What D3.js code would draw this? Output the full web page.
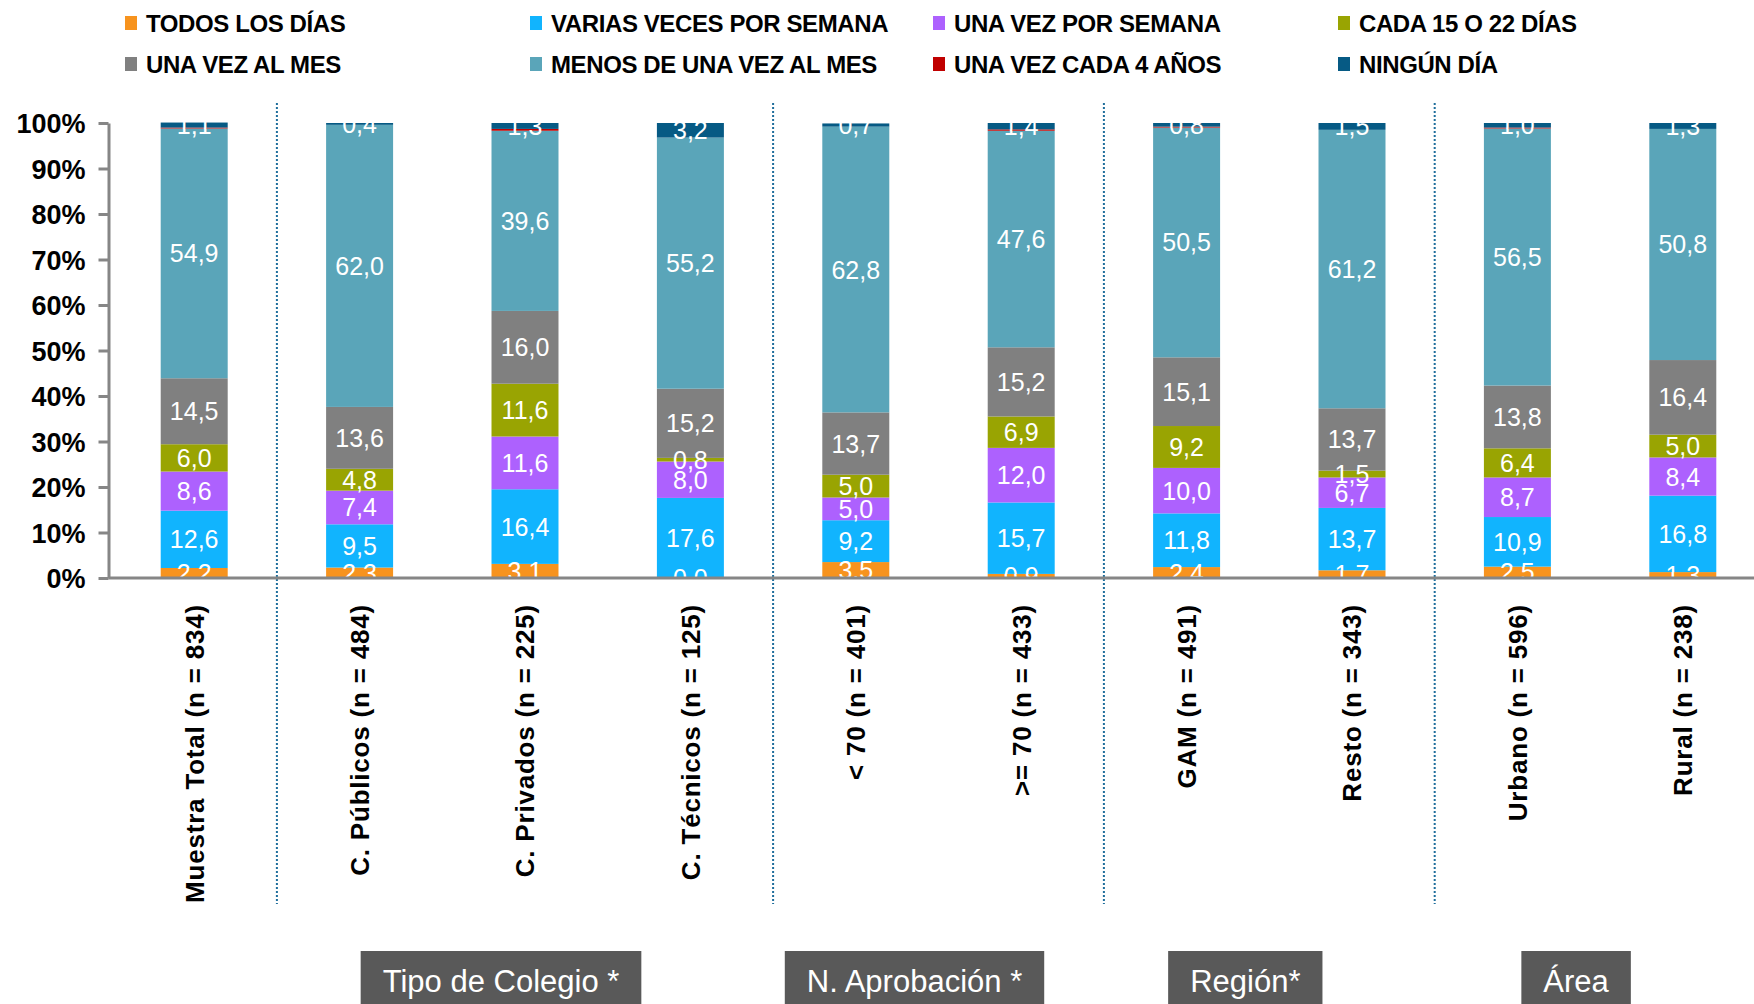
<!DOCTYPE html>
<html>
<head>
<meta charset="utf-8">
<script src="https://cdn.jsdelivr.net/npm/d3@7"></script>
<style>
  body { margin: 0; background: #fff; }
  svg { font-family: "Liberation Sans", Arial, sans-serif; display: block; }
  .axis path, .axis line { stroke: #868686; stroke-width: 3; }
  .ytick text { font-size: 27px; font-weight: bold; fill: #000; }
  .xlab { font-size: 26px; font-weight: bold; fill: #000; letter-spacing: 0.8px; }
  .val { font-size: 25px; fill: #fff; text-anchor: middle; }
  .leg { font-size: 24px; font-weight: bold; fill: #000; letter-spacing: -0.4px; }
  .grp { font-size: 31px; fill: #fff; text-anchor: middle; }
</style>
</head>
<body>
<script>
// categories (bars)
var categories = ["Muestra Total (n = 834)", "C. Públicos (n = 484)", "C. Privados (n = 225)",
  "C. Técnicos (n = 125)", "< 70 (n = 401)", ">= 70 (n = 433)", "GAM (n = 491)",
  "Resto (n = 343)", "Urbano (n = 596)", "Rural (n = 238)"];

// series values, %
var todosLosDias   = [2.2, 2.3, 3.1, 0.0, 3.5, 0.9, 2.4, 1.7, 2.5, 1.3];
var variasVeces    = [12.6, 9.5, 16.4, 17.6, 9.2, 15.7, 11.8, 13.7, 10.9, 16.8];
var unaVezSemana   = [8.6, 7.4, 11.6, 8.0, 5.0, 12.0, 10.0, 6.7, 8.7, 8.4];
var cada15o22      = [6.0, 4.8, 11.6, 0.8, 5.0, 6.9, 9.2, 1.5, 6.4, 5.0];
var unaVezMes      = [14.5, 13.6, 16.0, 15.2, 13.7, 15.2, 15.1, 13.7, 13.8, 16.4];
var menosUnaVezMes = [54.9, 62.0, 39.6, 55.2, 62.8, 47.6, 50.5, 61.2, 56.5, 50.8];
var cada4Anos      = [0.2, 0.0, 0.4, 0.0, 0.0, 0.3, 0.2, 0.0, 0.2, 0.0];
var ningunDia      = [1.1, 0.4, 1.3, 3.2, 0.7, 1.4, 0.8, 1.5, 1.0, 1.3];

var seriesNames = ["TODOS LOS DÍAS", "VARIAS VECES POR SEMANA", "UNA VEZ POR SEMANA", "CADA 15 O 22 DÍAS",
  "UNA VEZ AL MES", "MENOS DE UNA VEZ AL MES", "UNA VEZ CADA 4 AÑOS", "NINGÚN DÍA"];
var seriesValues = [todosLosDias, variasVeces, unaVezSemana, cada15o22, unaVezMes, menosUnaVezMes, cada4Anos, ningunDia];
var seriesColors = ["#F7931E", "#11B4FE", "#AD61FE", "#99A402", "#808080", "#5AA5B9", "#C00000", "#065A84"];
var noLabel = ["UNA VEZ CADA 4 AÑOS"];

// group boxes under the axis
var groupLabels = ["Tipo de Colegio *", "N. Aprobación *", "Región*", "Área"];
var groupSpans  = [[1, 3], [4, 5], [6, 7], [8, 9]];
var dividersAfter = [0, 3, 5, 7];

var yTicks = [0, 10, 20, 30, 40, 50, 60, 70, 80, 90, 100];

var W = 1754, H = 1004;
var axisX = 108.5, plotTop = 123, plotBottom = 578;

var svg = d3.select("body").append("svg")
    .attr("width", W)
    .attr("height", H);

var x = d3.scaleBand()
    .domain(categories)
    .range([axisX + 3, axisX + 3 + 1654])
    .paddingInner(0.595)
    .paddingOuter(0.2975);

var y = d3.scaleLinear()
    .domain([0, 100])
    .range([plotBottom, plotTop]);

// rows for the stack
var rows = categories.map(function(c, i) {
  var r = {cat: c};
  seriesNames.forEach(function(s, k) { r[s] = seriesValues[k][i]; });
  return r;
});
var stacked = d3.stack().keys(seriesNames)(rows);
var color = d3.scaleOrdinal().domain(seriesNames).range(seriesColors);

// dotted group dividers
var step = x.step();
svg.append("g").selectAll("line")
  .data(dividersAfter).enter()
  .append("line")
    .attr("x1", function(i) { return x(categories[i]) + x.bandwidth() / 2 + step / 2; })
    .attr("x2", function(i) { return x(categories[i]) + x.bandwidth() / 2 + step / 2; })
    .attr("y1", 103)
    .attr("y2", 904)
    .attr("stroke", "#1F6E9C")
    .attr("stroke-width", 2)
    .attr("stroke-dasharray", "2,2");

// bars
var layers = svg.append("g").selectAll("g")
  .data(stacked).enter()
  .append("g")
    .attr("fill", function(d) { return color(d.key); });

layers.selectAll("rect")
  .data(function(d) { return d; }).enter()
  .append("rect")
    .attr("x", function(d) { return x(d.data.cat); })
    .attr("width", x.bandwidth())
    .attr("y", function(d) { return y(d[1]); })
    .attr("height", function(d) { return y(d[0]) - y(d[1]); });

// value labels (white, centred in segment)
var fmt = function(v) { return d3.format(".1f")(v).replace(".", ","); };
svg.append("g").selectAll("g")
  .data(stacked.filter(function(s) { return noLabel.indexOf(s.key) < 0; })).enter()
  .append("g")
  .selectAll("text")
  .data(function(d) { return d; }).enter()
  .append("text")
    .attr("class", "val")
    .attr("x", function(d) { return x(d.data.cat) + x.bandwidth() / 2; })
    .attr("y", function(d) { return y((d[0] + d[1]) / 2); })
    .attr("dy", "0.36em")
    .text(function(d) { return fmt(d[1] - d[0]); });

// y axis
var yAxis = svg.append("g")
    .attr("class", "axis ytick")
    .attr("transform", "translate(" + axisX + ",0)")
    .call(d3.axisLeft(y).tickValues(yTicks).tickSize(10).tickSizeOuter(0).tickPadding(13)
      .tickFormat(function(d) { return d + "%"; }));
yAxis.selectAll("text").attr("dy", "0.36em");

// x axis
var xAxis = svg.append("g")
    .attr("class", "axis")
    .attr("transform", "translate(0," + plotBottom + ")")
    .call(d3.axisBottom(x).tickSize(0).tickSizeOuter(0));
xAxis.select(".domain").attr("d", "M" + axisX + ",0H" + W);
xAxis.selectAll("text")
    .attr("class", "xlab")
    .attr("transform", "rotate(-90)")
    .attr("x", -26)
    .attr("y", 0)
    .attr("dy", "0.36em")
    .style("text-anchor", "end");

// legend
var legCols = [125, 530, 933, 1338], legRows = [23, 64];
var leg = svg.append("g").selectAll("g")
  .data(seriesNames).enter()
  .append("g")
    .attr("transform", function(d, i) {
      return "translate(" + legCols[i % 4] + "," + legRows[Math.floor(i / 4)] + ")";
    });
leg.append("rect")
    .attr("x", 0).attr("y", -7)
    .attr("width", 12).attr("height", 14)
    .attr("fill", function(d) { return color(d); });
leg.append("text")
    .attr("class", "leg")
    .attr("x", 21)
    .attr("dy", "0.36em")
    .text(function(d) { return d; });

// group boxes
var grp = svg.append("g").selectAll("g")
  .data(groupLabels).enter()
  .append("g");
grp.each(function(d, i) {
  var g = d3.select(this);
  var a = categories[groupSpans[i][0]], b = categories[groupSpans[i][1]];
  var cx = (x(a) + x(b) + x.bandwidth()) / 2 - 24;
  var t = g.append("text")
      .attr("class", "grp")
      .attr("x", cx)
      .attr("y", 981)
      .attr("dy", "0.36em")
      .text(d);
  var w = t.node().getComputedTextLength() + 44;
  g.insert("rect", "text")
      .attr("x", cx - w / 2)
      .attr("y", 951)
      .attr("width", w)
      .attr("height", 70)
      .attr("fill", "#595959");
});
</script>
</body>
</html>
